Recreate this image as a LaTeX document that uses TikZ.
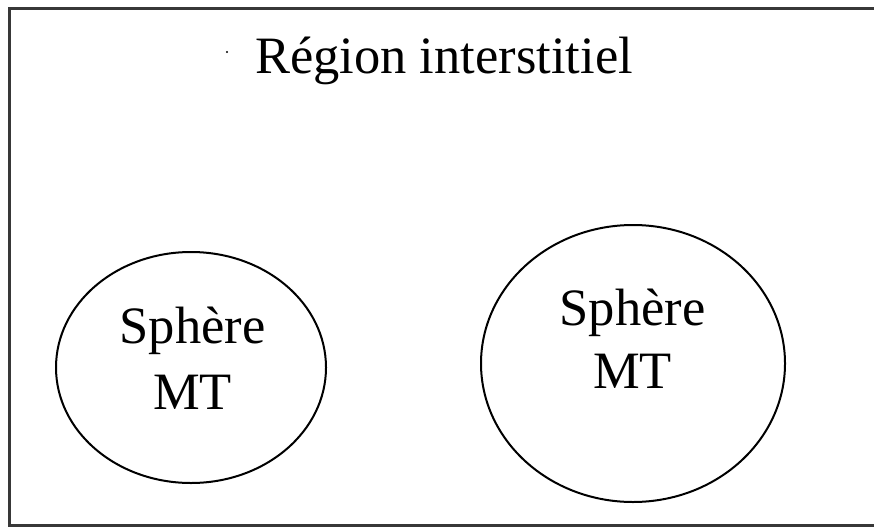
\documentclass[tikz,border=0pt]{standalone}
\usepackage{fontspec}
\setmainfont{Liberation Serif}
\usetikzlibrary{shapes.geometric}
\tikzset{
  sphere/.style={draw=black, line width=2pt, ellipse, inner sep=0pt},
  lbl/.style={inner sep=0pt, anchor=base, font=\fontsize{52.5}{63}\selectfont},
  frame/.style={draw=black!78, line width=3pt}
}
\begin{document}
\begin{tikzpicture}[x=1pt, y=-1pt]
\useasboundingbox (0,0) rectangle (874,527);
\fill[white] (0,0) rectangle (874,527);
\coordinate (fa) at (874,8.5);
\coordinate (fb) at (9.5,8.5);
\coordinate (fc) at (9.5,525.5);
\coordinate (fd) at (874,525.5);
\draw[frame] (fa) -- (fb) -- (fc) -- (fd);
\node[lbl] (title) at (444,73) {Région interstitiel};
\fill (227,52) circle (1.1pt);
\node[sphere, minimum width=270pt, minimum height=231pt] (e1) at (191,367.5) {};
\node[sphere, minimum width=304pt, minimum height=277pt] (e2) at (633,363.5) {};
\node[lbl] (s1a) at (192.5,343) {Sphère};
\node[lbl] (s1b) at (192.5,409) {MT};
\node[lbl] (s2a) at (632.5,325) {Sphère};
\node[lbl] (s2b) at (632.5,388) {MT};
\end{tikzpicture}
\end{document}
